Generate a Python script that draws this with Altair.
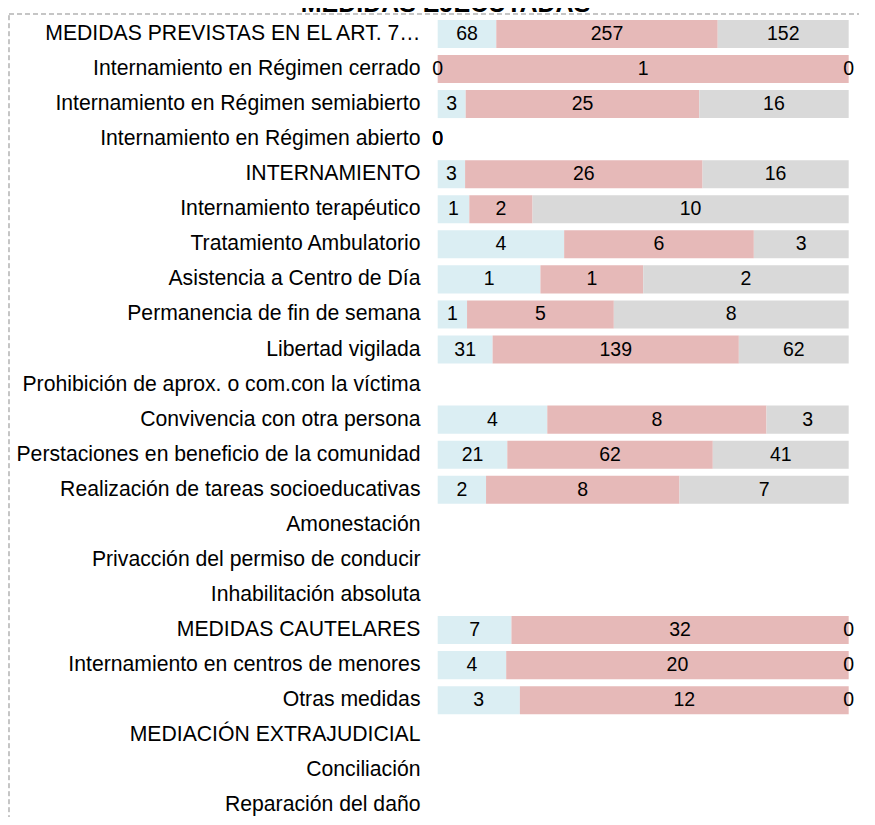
import altair as alt
import pandas as pd

title = "MEDIDAS EJECUTADAS"
categories = [
    "MEDIDAS PREVISTAS EN EL ART. 7…",
    "Internamiento en Régimen cerrado",
    "Internamiento en Régimen semiabierto",
    "Internamiento en Régimen abierto",
    "INTERNAMIENTO",
    "Internamiento terapéutico ",
    "Tratamiento Ambulatorio",
    "Asistencia a Centro de Día",
    "Permanencia de fin de semana",
    "Libertad vigilada",
    "Prohibición de aprox. o com.con la víctima",
    "Convivencia con otra persona",
    "Perstaciones en beneficio de la comunidad",
    "Realización de tareas socioeducativas",
    "Amonestación",
    "Privacción del permiso de conducir",
    "Inhabilitación absoluta",
    "MEDIDAS CAUTELARES",
    "Internamiento en centros de menores",
    "Otras medidas",
    "MEDIACIÓN EXTRAJUDICIAL",
    "Conciliación",
    "Reparación del daño",
]
series = ["Serie 1", "Serie 2", "Serie 3"]
colors = ["#DBEEF3", "#E6B9B8", "#D9D9D9"]
serie1 = [68, 0, 3, 0, 3, 1, 4, 1, 1, 31, None, 4, 21, 2, None, None, None, 7, 4, 3, None, None, None]
serie2 = [257, 1, 25, 0, 26, 2, 6, 1, 5, 139, None, 8, 62, 8, None, None, None, 32, 20, 12, None, None, None]
serie3 = [152, 0, 16, 0, 16, 10, 3, 2, 8, 62, None, 3, 41, 7, None, None, None, 0, 0, 0, None, None, None]

rows = []
for s_idx, (name, vals) in enumerate(zip(series, [serie1, serie2, serie3])):
    for cat, v in zip(categories, vals):
        if v is not None:
            rows.append({"cat": cat, "serie": name, "idx": s_idx, "value": v})
df = pd.DataFrame(rows)

FONT = "Liberation Sans"

y_enc = alt.Y(
    "cat:N",
    scale=alt.Scale(domain=categories, paddingInner=0.2, paddingOuter=0.1, range=[0, 806.5]),
    axis=alt.Axis(
        title=None, domain=False, ticks=False, labelPadding=17.7,
        labelFontSize=21.2, labelFont=FONT, labelColor="#000000", labelLimit=500,
    ),
)

bars = alt.Chart(df).mark_bar().encode(
    y=y_enc,
    x=alt.X("value:Q", stack="normalize", scale=alt.Scale(domain=[0, 1]), axis=None),
    color=alt.Color("serie:N", scale=alt.Scale(domain=series, range=colors), legend=None),
    order=alt.Order("idx:Q"),
)

labels = (
    alt.Chart(df)
    .transform_joinaggregate(total="sum(value)", groupby=["cat"])
    .transform_stack(stack="value", groupby=["cat"], as_=["s0", "s1"], sort=[alt.SortField("idx")])
    .transform_calculate(mid="datum.total > 0 ? (datum.s0 + datum.s1) / 2 / datum.total : 0")
    .mark_text(font=FONT, fontSize=19.5, color="#000000", baseline="middle", align="center")
    .encode(
        y=alt.Y("cat:N"),
        x=alt.X("mid:Q", scale=alt.Scale(domain=[0, 1])),
        text=alt.Text("value:Q"),
    )
)

title_layer = alt.Chart(pd.DataFrame({"t": [title]})).mark_text(
    font=FONT, fontSize=25, fontWeight="bold", align="center", baseline="alphabetic", color="#000000"
).encode(text="t:N", x=alt.value(7.8), y=alt.value(-4.0))

border = alt.Chart(pd.DataFrame({"b": [0]})).mark_rect(
    fillOpacity=0, stroke="#8c8c8c", strokeWidth=1, strokeDash=[5, 3]
).encode(x=alt.value(-428.7), x2=alt.value(900), y=alt.value(-2.4), y2=alt.value(900))

chart = (
    alt.layer(border, bars, labels, title_layer)
    .properties(
        width=411,
        height=800.6,
        autosize=alt.AutoSizeParams(type="none"),
        padding={"left": 429.7, "top": 8.4, "right": 10, "bottom": 0},
    )
    .configure_view(stroke=None)
)

chart.save("out.html", embed_options={"renderer": "svg", "actions": False})
